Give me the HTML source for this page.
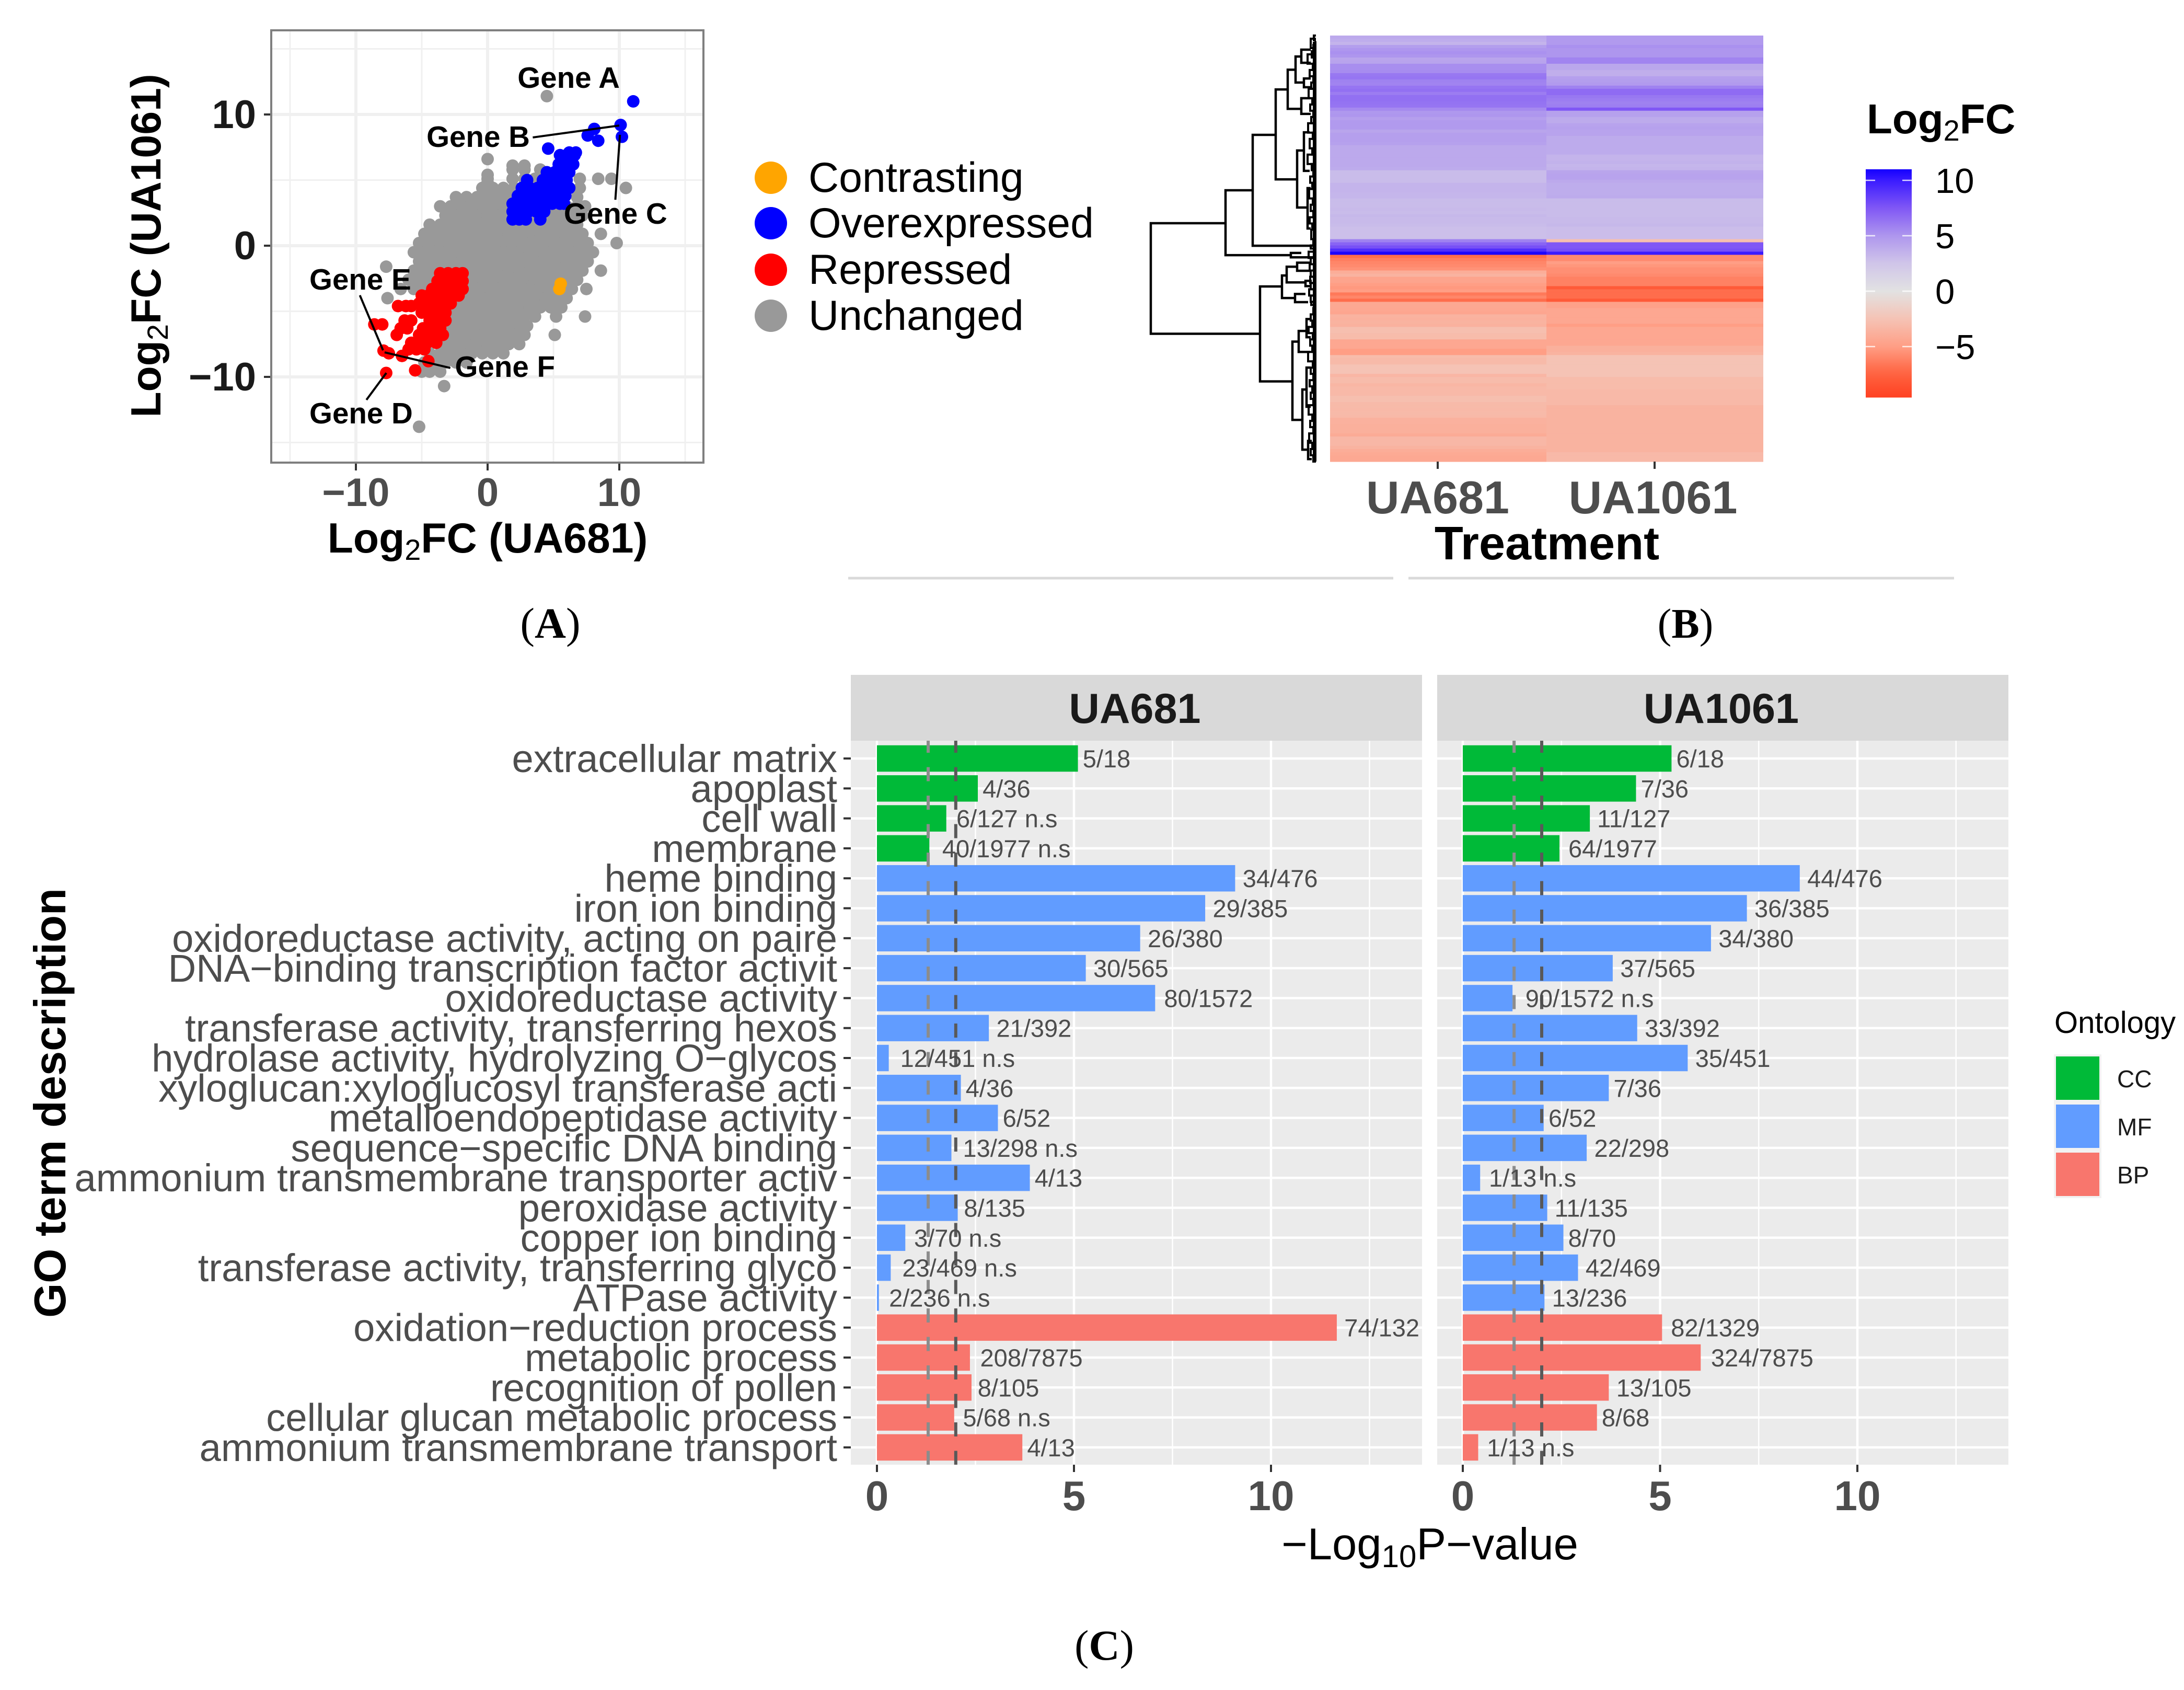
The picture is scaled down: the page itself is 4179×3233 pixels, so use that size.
<!DOCTYPE html>
<html lang="en">
<head>
<meta charset="utf-8">
<title>Differential expression figure</title>
<style>
html,body{margin:0;padding:0;background:#fff;}
svg{display:block;font-family:"Liberation Sans",sans-serif;}
</style>
</head>
<body>
<svg id="figure" xmlns="http://www.w3.org/2000/svg" width="4179" height="3233" viewBox="0 0 4179 3233">
<rect x="0" y="0" width="4179" height="3233" fill="#fff"/>

<g id="panelA"></g>
<text x="933" y="1057" text-anchor="middle" font-size="80.5" font-weight="bold" fill="#000">Log<tspan dy="14" font-size="56" font-weight="normal">2</tspan><tspan dy="-14">FC (UA681)</tspan></text>
<text transform="translate(307,470) rotate(-90)" text-anchor="middle" font-size="80.5" font-weight="bold" fill="#000">Log<tspan dy="14" font-size="56" font-weight="normal">2</tspan><tspan dy="-14">FC  (UA1061)</tspan></text>

<g>
<circle cx="1475" cy="340" r="31" fill="#ffa500"/>
<circle cx="1475" cy="427" r="31" fill="#0000ff"/>
<circle cx="1475" cy="516" r="31" fill="#ff0000"/>
<circle cx="1475" cy="604" r="31" fill="#999999"/>
<text x="1547" y="367" font-size="80.5" fill="#000">Contrasting</text>
<text x="1547" y="454" font-size="80.5" fill="#000">Overexpressed</text>
<text x="1547" y="543" font-size="80.5" fill="#000">Repressed</text>
<text x="1547" y="631" font-size="80.5" fill="#000">Unchanged</text>
</g>

<g id="dendrogram"></g>
<g id="heatmap"></g>
<text x="2960" y="1070" text-anchor="middle" font-size="90" font-weight="bold" fill="#000">Treatment</text>

<text x="3572" y="255" font-size="80" font-weight="bold" fill="#000">Log<tspan dy="14" font-size="56" font-weight="normal">2</tspan><tspan dy="-14">FC</tspan></text>
<defs><linearGradient id="colorbarGradient" x1="0" y1="0" x2="0" y2="1"></linearGradient></defs>
<g id="colorbar"></g>

<line x1="1623" y1="1106" x2="2666" y2="1106" stroke="#d9d9d9" stroke-width="5"/>
<line x1="2695" y1="1106" x2="3739" y2="1106" stroke="#d9d9d9" stroke-width="5"/>

<text x="1053" y="1220" text-anchor="middle" font-family="'Liberation Serif',serif" font-size="83" fill="#000">(<tspan font-weight="bold">A</tspan>)</text>
<text x="3225" y="1220" text-anchor="middle" font-family="'Liberation Serif',serif" font-size="80" fill="#000">(<tspan font-weight="bold">B</tspan>)</text>
<text x="2113" y="3175" text-anchor="middle" font-family="'Liberation Serif',serif" font-size="82" fill="#000">(<tspan font-weight="bold">C</tspan>)</text>

<g id="panelC"></g>
<text transform="translate(125,2110) rotate(-90)" text-anchor="middle" font-size="85" font-weight="bold" fill="#000">GO term description</text>
<text x="2736" y="2983" text-anchor="middle" font-size="85" fill="#000">−Log<tspan dy="15" font-size="60">10</tspan><tspan dy="-15">P−value</tspan></text>

<g>
<text x="3931" y="1976" font-size="58" fill="#000">Ontology</text>
<rect x="3930" y="2017" width="91" height="275" fill="#f2f2f2"/>
<rect x="3934" y="2021" width="83" height="83" fill="#00ba38"/>
<rect x="3934" y="2113" width="83" height="83" fill="#619cff"/>
<rect x="3934" y="2205" width="83" height="83" fill="#f8766d"/>
<text x="4051" y="2080" font-size="46" fill="#1a1a1a">CC</text>
<text x="4051" y="2172" font-size="46" fill="#1a1a1a">MF</text>
<text x="4051" y="2264" font-size="46" fill="#1a1a1a">BP</text>
</g>
</svg>

<script>
/* ===== Panel A data: Log2FC in UA681 (x) and UA1061 (y) ===== */
const scatterMajorTicks = [-10, 0, 10];
const scatterMinorTicks = [-15, -5, 5, 15];
const scatterTickLabels = ['−10', '0', '10'];
/* each row: [y, [x, x, ...]] */
const unchangedRows = [
[11.4,[4.5]],[6.6,[0]],[6.1,[1.9,2.8]],[5.8,[1.9,2.8,4.0]],[5.4,[0]],[5.1,[0,1.9,2.8,3.6,7.0,8.4,9.4]],[4.8,[0]],
[4.4,[-0.4,0.4,1.2,2,2.8,7.0,10.5]],
[3.7,[-2.4,-1.6,-0.8,0,0.8,1.6,2.4,3.2,6.8]],
[3.0,[-3.6,-2.8,-2,-1.2,-0.4,0.4,1.2,2,2.8,3.6,4.4,5.2,6,6.8,7.4]],
[2.3,[-3.2,-2.4,-1.6,-0.8,0,0.8,1.6,2.4,3.2,4,4.8,5.6,6.4,7.2]],
[1.6,[-4.4,-3.6,-2.8,-2,-1.2,-0.4,0.4,1.2,2,2.8,3.6,4.4,5.2,6,6.8]],
[0.9,[-4.8,-4,-3.2,-2.4,-1.6,-0.8,0,0.8,1.6,2.4,3.2,4,4.8,5.6,6.4,7.2,8.6]],
[0.2,[-5.2,-4.4,-3.6,-2.8,-2,-1.2,-0.4,0.4,1.2,2,2.8,3.6,4.4,5.2,6,6.8,7.6,9.8]],
[-0.5,[-5.6,-4.8,-4,-3.2,-2.4,-1.6,-0.8,0,0.8,1.6,2.4,3.2,4,4.8,5.6,6.4,7.2,8]],
[-1.2,[-5.2,-4.4,-3.6,-2.8,-2,-1.2,-0.4,0.4,1.2,2,2.8,3.6,4.4,5.2,6,6.8,7.6]],
[-1.6,[-7.7]],
[-1.9,[-5.6,-4.8,-4,-3.2,-2.4,-1.6,-0.8,0,0.8,1.6,2.4,3.2,4,4.8,5.6,6.4,7.2,8.6]],
[-2.6,[-6,-5.2,-4.4,-3.6,-2.8,-2,-1.2,-0.4,0.4,1.2,2,2.8,3.6,4.4,5.2,6,6.8]],
[-3.3,[-6.6,-5.6,-4.8,-4,-3.2,-2.4,-1.6,-0.8,0,0.8,1.6,2.4,3.2,4,4.8,5.6,6.4,7.5]],
[-4.0,[-7.6,-4.4,-3.6,-2.8,-2,-1.2,-0.4,0.4,1.2,2,2.8,3.6,4.4,5.2,6]],
[-4.7,[-4,-3.2,-2.4,-1.6,-0.8,0,0.8,1.6,2.4,3.2,4,4.8,5.6]],
[-5.4,[-3.6,-2.8,-2,-1.2,-0.4,0.4,1.2,2,2.8,3.6,5.2,7.4]],
[-6.1,[-3.2,-2.4,-1.6,-0.8,0,0.8,1.6,2.4,3.0]],
[-6.8,[-3.6,-2.8,-2,-1.2,-0.4,0.4,1.2,2,2.8,5.1]],
[-7.5,[-3.2,-2.4,-1.6,-0.8,0,0.8,1.6,2.4]],
[-8.2,[-4.4,-3.6,-2.8,-2,-1.2,-0.4,0.4,1.2]],
[-8.9,[-4.8,-4,-3.2,-2.4,-1.6]],
[-9.6,[-5,-4.4,-3.6]],[-10.7,[-3.3]],[-13.8,[-5.2]]
];
const overexpressedRows = [
[11.0,[11.06]],[9.2,[10.1]],[8.9,[8.1]],[8.4,[7.6]],[8.3,[10.2]],[8.0,[8.4]],[7.4,[4.6]],
[7.1,[6.2,6.7]],[6.9,[5.5,6.0,6.6]],[6.2,[5.4,5.9,6.5]],[5.6,[4.5,5.1,5.7,6.2]],
[5.0,[3.0,4.2,4.8,5.4,6.0]],[4.4,[2.6,3.2,3.8,4.4,5.0,5.6,6.2]],
[3.8,[2.3,2.9,3.5,4.1,4.7,5.3,5.9]],[3.2,[1.9,2.5,3.1,3.7,4.3,4.9,5.5,5.8]],
[2.6,[1.9,2.5,3.1,3.7,4.3]],[2.0,[1.9,2.4,2.9,4.0]]
];
const repressedRows = [
[-2.1,[-3.6,-3,-2.4,-1.9]],[-2.7,[-3.8,-3.2,-2.6,-1.9]],[-3.3,[-4.2,-3.6,-3,-2.4,-1.9]],
[-3.8,[-5,-4.5,-4,-3.4,-2.8,-2.2]],[-4.4,[-5.2,-4.6,-4,-3.4,-2.8]],[-4.6,[-6.8,-6.2,-5.8]],
[-5.1,[-5,-4.4,-3.8,-3.2]],[-5.7,[-6.3,-5.8,-4.4,-3.8,-3.2]],[-6.0,[-8.6,-8]],
[-6.3,[-6.6,-6.1,-4.9,-4.2,-3.6]],[-6.8,[-6.9,-5.2,-4.6,-4,-3.4]],
[-7.4,[-5.8,-5.2,-4.6,-3.9]],[-7.9,[-6,-5.4,-4.8]],[-8.0,[-7.9]],[-8.2,[-7.5]],
[-8.4,[-6.5]],[-8.8,[-4.5]],[-9.5,[-5.5]],[-9.7,[-7.7]]
];
const contrastingRows = [[-2.9,[5.55]],[-3.3,[5.45]]];
/* gene callouts: label leader lines in data units [x0, y0, x1, y1] */
const geneLeaders = [
[3.43,8.25,10.0,9.16],[9.7,3.5,10.05,8.45],[-9.7,-3.78,-7.94,-7.97],
[-7.82,-8.13,-2.83,-9.32],[-9.2,-11.75,-7.69,-9.7]
];
const geneNames = ['Gene A','Gene B','Gene C','Gene D','Gene E','Gene F'];
/* label anchors in data units */
const geneLabelX = [2.27,-4.64,5.79,-13.53,-13.53,-2.48];
const geneLabelY = [12.03,7.53,1.67,-13.54,-3.35,-10.0];

/* ===== Panel B data: one value per gene row ===== */
const heatUA681 = [
4.0,3.8,3.4,4.6,5,5.2,5,4.2,4.3,5.3,5.3,5.4,6.2,6.3,5.8,5.7,6.3,6.5,6.0,6.5,6.5,6.4,6.3,5.5,4.9,5.0,4.5,4.8,4.8,4.8,
4.2,4.5,4.5,4.5,4.4,4.0,4,4,4,4,4,4,3.9,3,3,3,3,3.4,3.4,3.4,3.3,3.3,3.0,3.0,3.0,3.1,3.0,3.2,3.1,3.1,
3.0,2.8,2.8,2.8,2.8,5.8,7.0,7.8,9.2,10.8,
-7,-6.3,-6,-5.8,-5.5,-4,-3.6,-4.6,-4.6,-5,-5.2,-5,-6.5,-6,-7,-4.3,-4.3,-4.4,-4.5,-3.6,-3.7,-3.6,-3.7,-2.8,-2.8,-3,-3,-4.4,-4.4,-4.4,
-5,-5,-3,-3.1,-3.1,-2.5,-2.5,-2.5,-3.4,-3,-3,-3.4,-3.2,-3.2,-3.2,-2.8,-2.8,-3.1,-3.1,-3.2,-3.1,-3.2,-3.7,-3.7,-3.8,-3.8,-3.8,-4.1,-3.3,-3.3,
-3.3,-3.6,-4,-4.2,-4.3,-4.3
];
const heatUA1061 = [
4.8,4.8,4.8,5.2,5,5,5,5.7,5.7,4.1,4.1,3.7,3.7,4.5,4.6,4.8,5.8,6.7,6.7,6.2,6,5.8,5.9,7.5,4.4,4.4,3.9,3.9,4.3,4.4,
4.3,4.3,3.9,3.9,3.9,3.9,3.9,3.9,3.4,3.4,3.5,3.3,3.4,4.2,4.3,4.3,4.0,3.8,3.8,3.8,3.8,3.9,3.0,3.0,3.0,3.0,3.0,3.0,3.1,3.1,
3.2,2.9,2.9,2.9,2.9,-2.8,7.5,7.5,7.8,10,
-5.8,-5.8,-5,-5.3,-5.6,-5.6,-5.8,-6.2,-6.2,-6.2,-8,-7,-7,-7,-8,-4.8,-4.8,-4.4,-4.4,-4.4,-4.4,-4.4,-5,-4.4,-4.4,-4.4,-4.4,-4.4,-4.4,-3.8,
-3.8,-3.6,-2.5,-2.5,-2.5,-2.5,-2.5,-2.5,-2.5,-3,-3,-3,-3,-3.2,-3.2,-3.2,-3.2,-3.2,-3.6,-3.6,-3.6,-3.6,-3.6,-3.6,-3.6,-3.6,-3.6,-3.6,-3.6,-3.6,
-3.6,-3.6,-3.6,-3.2,-3.2,-3.2
];
const heatColumns = ['UA681','UA1061'];
const colorStopValues = [11,10,7.5,5,2.5,0,-2.5,-5,-7,-8,-9.6];
const colorStopHex = ['#1400ff','#3a1bff','#8057f5','#ae96ee','#d0c5e9','#e2e2e2','#f5c3b5','#ff9e85','#ff6d4c','#ff5a38','#ff4122'];
const colorbarTicks = [10,5,0,-5];
const colorbarTickLabels = ['10','5','0','−5'];

/* dendrogram merges: [height, topRow, bottomRow, topChildHeight, bottomChildHeight] */
const dendroMerges = [
[31.6,59.9,95.2,17.3,10.7],[17.3,49.4,70.1,12.1,4.8],[12.1,31.7,67.1,7.7,0],[7.7,17.2,45.9,5.4,3.6],
[5.4,10.9,23.4,3.9,2.8],[3.9,6.7,15,2.8,2.3],[2.8,4.5,8.7,1,1],[2.3,13.7,16.5,1,0.8],[2.8,20,25,1,1],
[3.6,36.7,54.9,2.3,1.6],[2.3,30.9,43.2,1.2,1.2],[1.6,48.7,61.6,1,1],[4.8,69.4,70.8,2.8,0],
[10.7,80.1,110.4,6.5,4.5],[6.5,76.6,83.8,5.6,4],[5.6,73.8,78.8,3.6,2],[3.6,72.5,75.1,1,1],[2,78.3,80,0.8,0.8],
[4,82.5,85.1,2,1.5],[4.5,97.7,122.7,3.3,2.6],[3.3,94.3,101,1.8,1.1],[1.8,90.5,96.3,1,1],
[2.6,113,132.2,1.8,1.5],[1.8,106,118.5,1,1],[1.5,129.4,135.2,0.8,0.8]
];
/* small merges close to the leaves: [height, topRow, bottomRow] */
const dendroLeafMerges = [
[0.4,0,1.5],[1,1,4],[0.5,3,5],[0.8,5,7],[1.6,6,9],[0.6,9,11],[1.2,11,13],[0.5,13,15],[0.9,15,17],[1.4,17,20],
[0.7,20,22],[1.1,22,24],[0.5,24,26],[0.9,26,28],[1.5,28,31],[0.6,31,33],[1.2,33,36],[0.7,36,38],[1.6,38,41],[0.8,41,43],
[0.5,43,45],[1.1,45,47],[0.7,47,49],[1.3,49,52],[0.6,52,54],[1,54,56],[0.5,56,58],[1.2,58,60],[0.7,60,62],[0.9,62,65],
[0.5,65,67],[1,67,68],[1.4,69,71],[1,71,73],[1.2,73,75],[1,75,77],[1.1,77,79],[1,79,81],[1.3,81,83],[1,83,85],
[0.9,85,86],[0.5,87,89],[1,89,91],[0.7,91,93],[1.4,93,95],[0.6,95,97],[1.1,97,99],[0.7,99,101],[1.5,101,104],[0.6,104,106],
[1,106,108],[0.5,108,110],[1.2,110,112],[0.7,112,114],[1,114,116],[0.5,116,118],[1.4,118,121],[0.7,121,123],[1.1,123,125],[0.5,125,127],
[1.3,127,130],[0.7,130,132],[1,132,134],[0.5,134,136]
];

/* ===== Panel C data ===== */
const goTerms = [
'extracellular matrix','apoplast','cell wall','membrane','heme binding','iron ion binding',
'oxidoreductase activity, acting on paire','DNA−binding transcription factor activit','oxidoreductase activity',
'transferase activity, transferring hexos','hydrolase activity, hydrolyzing O−glycos','xyloglucan:xyloglucosyl transferase acti',
'metalloendopeptidase activity','sequence−specific DNA binding','ammonium transmembrane transporter activ',
'peroxidase activity','copper ion binding','transferase activity, transferring glyco','ATPase activity',
'oxidation−reduction process','metabolic process','recognition of pollen','cellular glucan metabolic process','ammonium transmembrane transport'
];
const goOntology = ['CC','CC','CC','CC','MF','MF','MF','MF','MF','MF','MF','MF','MF','MF','MF','MF','MF','MF','MF','BP','BP','BP','BP','BP'];
const ua681Values = [5.10,2.56,1.76,1.33,9.09,8.33,6.68,5.30,7.06,2.84,0.30,2.13,3.07,1.89,3.88,2.05,0.72,0.35,0.05,11.67,2.36,2.40,1.96,3.69];
const ua1061Values = [5.29,4.39,3.22,2.45,8.54,7.20,6.29,3.80,1.26,4.42,5.70,3.70,2.05,3.14,0.44,2.14,2.55,2.92,2.07,5.05,6.03,3.70,3.40,0.39];
const ua681Labels = ['5/18','4/36','6/127 n.s','40/1977 n.s','34/476','29/385','26/380','30/565','80/1572','21/392','12/451 n.s','4/36','6/52','13/298 n.s','4/13','8/135','3/70 n.s','23/469 n.s','2/236 n.s','74/132','208/7875','8/105','5/68 n.s','4/13'];
const ua1061Labels = ['6/18','7/36','11/127','64/1977','44/476','36/385','34/380','37/565','90/1572 n.s','33/392','35/451','7/36','6/52','22/298','1/13 n.s','11/135','8/70','42/469','13/236','82/1329','324/7875','13/105','8/68','1/13 n.s'];
const goMajorTicks = [0,5,10];
const goMinorTicks = [2.5,7.5,12.5];
const significanceLines = [1.3,2];

/* ===== helpers ===== */
const NS = 'http://www.w3.org/2000/svg';
function mk(parent, tag, props, text) {
  const el = document.createElementNS(NS, tag);
  for (const k in props) el.setAttribute(k, props[k]);
  if (text !== undefined) el.textContent = text;
  parent.appendChild(el);
  return el;
}

/* ===== Panel A ===== */
(function () {
  const g = document.getElementById('panelA');
  const L = 519, R = 1346, T = 58, B = 885;
  const sx = v => 933 + v * 25.2;
  const sy = v => 470 - v * 25.1;
  const bg = mk(g, 'rect', {x: L, y: T, width: R - L, height: B - T, fill: '#fff'});
  
  
  scatterMinorTicks.forEach(v => {
    const a = mk(g, 'line', {x1: sx(v), x2: sx(v), y1: T, y2: B, stroke: '#f0f0f0', 'stroke-width': 3});
    
    
    const b = mk(g, 'line', {x1: L, x2: R, y1: sy(v), y2: sy(v), stroke: '#f0f0f0', 'stroke-width': 3});
    
    
  });
  scatterMajorTicks.forEach((v, i) => {
    const a = mk(g, 'line', {x1: sx(v), x2: sx(v), y1: T, y2: B, stroke: '#f0f0f0', 'stroke-width': 6});
    
    
    const b = mk(g, 'line', {x1: L, x2: R, y1: sy(v), y2: sy(v), stroke: '#f0f0f0', 'stroke-width': 6});
    
    
    const tx = mk(g, 'line', {x1: sx(v), x2: sx(v), y1: B, y2: B + 15, stroke: '#333', 'stroke-width': 4});
    
    
    const ty = mk(g, 'line', {x1: L - 14, x2: L, y1: sy(v), y2: sy(v), stroke: '#333', 'stroke-width': 4});
    
    
    const lx = mk(g, 'text', {x: sx(v), y: 968, 'text-anchor': 'middle', 'font-size': 76, 'font-weight': 'bold', fill: '#4d4d4d'}, scatterTickLabels[i]);
    
    
    const ly = mk(g, 'text', {x: 490, y: sy(v) + 26, 'text-anchor': 'end', 'font-size': 76, 'font-weight': 'bold', fill: '#1a1a1a'}, scatterTickLabels[i]);
    
    
  });
  const R_PT = 12;
  unchangedRows.forEach(row => row[1].forEach(x => {
    const c = mk(g, 'circle', {cx: sx(x), cy: sy(row[0]), r: R_PT, fill: '#999999'});
    
    
  }));
  repressedRows.forEach(row => row[1].forEach(x => {
    const c = mk(g, 'circle', {cx: sx(x), cy: sy(row[0]), r: R_PT, fill: '#ff0000'});
    
    
  }));
  overexpressedRows.forEach(row => row[1].forEach(x => {
    const c = mk(g, 'circle', {cx: sx(x), cy: sy(row[0]), r: R_PT, fill: '#0000ff'});
    
    
  }));
  contrastingRows.forEach(row => row[1].forEach(x => {
    const c = mk(g, 'circle', {cx: sx(x), cy: sy(row[0]), r: R_PT, fill: '#ffa500'});
    
    
  }));
  geneLeaders.forEach(s => {
    const l = mk(g, 'line', {x1: sx(s[0]), y1: sy(s[1]), x2: sx(s[2]), y2: sy(s[3]), stroke: '#000', 'stroke-width': 4});
    
    
  });
  geneNames.forEach((n, i) => {
    const t = mk(g, 'text', {x: sx(geneLabelX[i]), y: sy(geneLabelY[i]), 'font-size': 56.5, 'font-weight': 'bold', fill: '#000'}, n);
    
    
  });
  const border = mk(g, 'rect', {x: L, y: T, width: R - L, height: B - T, fill: 'none', stroke: '#7f7f7f', 'stroke-width': 4});
  
  
})();

/* ===== Panel B ===== */
function hexToRgb(h) { return [1, 3, 5].map(i => parseInt(h.substr(i, 2), 16)); }
function heatColor(v) {
  if (v >= colorStopValues[0]) return colorStopHex[0];
  for (let i = 1; i < colorStopValues.length; i++) {
    if (v >= colorStopValues[i]) {
      const t = (v - colorStopValues[i]) / (colorStopValues[i - 1] - colorStopValues[i]);
      const a = hexToRgb(colorStopHex[i]), b = hexToRgb(colorStopHex[i - 1]);
      return 'rgb(' + a.map((c, k) => Math.round(c + (b[k] - c) * t)).join(',') + ')';
    }
  }
  return colorStopHex[colorStopHex.length - 1];
}
(function () {
  const g = document.getElementById('heatmap');
  const top = 68, bottom = 883, left = 2545, mid = 2959, right = 3374;
  const n = heatUA681.length;
  const rowH = (bottom - top) / n;
  heatUA681.forEach((v, i) => {
    const r = mk(g, 'rect', {x: left, y: top + i * rowH, width: mid - left, height: rowH + 0.6, fill: heatColor(v)});
    
    
  });
  heatUA1061.forEach((v, i) => {
    const r = mk(g, 'rect', {x: mid, y: top + i * rowH, width: right - mid, height: rowH + 0.6, fill: heatColor(v)});
    
    
  });
  const tickX = [2751, 3166];
  heatColumns.forEach((c, i) => {
    const t = mk(g, 'line', {x1: tickX[i], x2: tickX[i], y1: bottom, y2: bottom + 14, stroke: '#333', 'stroke-width': 4});
    
    
    const l = mk(g, 'text', {x: tickX[i] - (i ? 3 : 0), y: 982, 'text-anchor': 'middle', 'font-size': 88, 'font-weight': 'bold', fill: '#4d4d4d'}, c);
    
    
  });

  /* dendrogram */
  const d = document.getElementById('dendrogram');
  const dx = h => 2518 - h * 10;
  const dy = r => top + r * rowH;
  const spine = mk(d, 'line', {x1: dx(0.25), x2: dx(0.25), y1: dy(2), y2: dy(136), stroke: '#000', 'stroke-width': 7});
  
  
  const tip = mk(d, 'line', {x1: dx(0.1), x2: dx(0.1), y1: dy(1.8), y2: dy(136), stroke: '#000', 'stroke-width': 4});
  
  
  dendroLeafMerges.forEach(m => {
    const p = mk(d, 'path', {d: 'M' + dx(0) + ' ' + dy(m[1]) + 'H' + dx(m[0]) + 'V' + dy(m[2]) + 'H' + dx(0), fill: 'none', stroke: '#000', 'stroke-width': 4});
    
    
  });
  dendroMerges.forEach(m => {
    const p = mk(d, 'path', {d: 'M' + dx(m[3]) + ' ' + dy(m[1]) + 'H' + dx(m[0]) + 'V' + dy(m[2]) + 'H' + dx(m[4]), fill: 'none', stroke: '#000', 'stroke-width': 4.5});
    
    
  });

  /* colorbar */
  const bar = document.getElementById('colorbar');
  const grad = document.getElementById('colorbarGradient');
  const vTop = colorStopValues[0], vBot = colorStopValues[colorStopValues.length - 1];
  colorStopValues.forEach((v, i) => {
    mk(grad, 'stop', {offset: (vTop - v) / (vTop - vBot), 'stop-color': colorStopHex[i]});
  });
  const by = v => 557 - v * 21.2;
  const cb = mk(bar, 'rect', {x: 3570, y: by(vTop), width: 88, height: by(vBot) - by(vTop), fill: 'url(#colorbarGradient)'});
  
  
  colorbarTicks.forEach((v, i) => {
    const a = mk(bar, 'line', {x1: 3570, x2: 3588, y1: by(v), y2: by(v), stroke: '#fff', 'stroke-width': 2.5, opacity: 0.8});
    
    
    const b = mk(bar, 'line', {x1: 3640, x2: 3658, y1: by(v), y2: by(v), stroke: '#fff', 'stroke-width': 2.5, opacity: 0.8});
    
    
    const t = mk(bar, 'text', {x: 3703, y: by(v) + 24, 'font-size': 67, fill: '#000'}, colorbarTickLabels[i]);
    
    
  });
})();

/* ===== Panel C ===== */
(function () {
  const g = document.getElementById('panelC');
  const stripTop = 1291, stripBottom = 1417, panelBottom = 2802;
  const yBand = i => 1451 + i * 57.3;
  const barH = 50.5;
  const colors = {CC: '#00ba38', MF: '#619cff', BP: '#f8766d'};
  const facets = [
    {name: 'UA681', left: 1628, right: 2721, x0: 1678, unit: 75.4, values: ua681Values, labels: ua681Labels},
    {name: 'UA1061', left: 2750, right: 3843, x0: 2799, unit: 75.5, values: ua1061Values, labels: ua1061Labels}
  ];
  facets.forEach(f => {
    const sx = v => f.x0 + v * f.unit;
    const strip = mk(g, 'rect', {x: f.left, y: stripTop, width: f.right - f.left, height: stripBottom - stripTop, fill: '#d9d9d9'});
    
    
    const st = mk(g, 'text', {x: (f.left + f.right) / 2 - 3, y: 1383, 'text-anchor': 'middle', 'font-size': 81, 'font-weight': 'bold', fill: '#1a1a1a'}, f.name);
    
    
    const bg = mk(g, 'rect', {x: f.left, y: stripBottom, width: f.right - f.left, height: panelBottom - stripBottom, fill: '#ebebeb'});
    
    
    goMinorTicks.forEach(v => {
      const l = mk(g, 'line', {x1: sx(v), x2: sx(v), y1: stripBottom, y2: panelBottom, stroke: '#fff', 'stroke-width': 2.5});
      
      
    });
    goMajorTicks.forEach(v => {
      const l = mk(g, 'line', {x1: sx(v), x2: sx(v), y1: stripBottom, y2: panelBottom, stroke: '#fff', 'stroke-width': 4.5});
      
      
      const t = mk(g, 'line', {x1: sx(v), x2: sx(v), y1: panelBottom, y2: panelBottom + 14, stroke: '#333', 'stroke-width': 4});
      
      
      const lab = mk(g, 'text', {x: sx(v), y: 2889, 'text-anchor': 'middle', 'font-size': 80, 'font-weight': 'bold', fill: '#4d4d4d'}, String(v));
      
      
    });
    goTerms.forEach((term, i) => {
      const l = mk(g, 'line', {x1: f.left, x2: f.right, y1: yBand(i), y2: yBand(i), stroke: '#fff', 'stroke-width': 4.5});
      
      
    });
    f.values.forEach((v, i) => {
      const b = mk(g, 'rect', {x: sx(0), y: yBand(i) - barH / 2, width: v * f.unit, height: barH, fill: colors[goOntology[i]]});
      
      
    });
    significanceLines.forEach((v, i) => {
      const l = mk(g, 'line', {x1: sx(v), x2: sx(v), y1: stripBottom, y2: panelBottom, stroke: i ? '#595959' : '#8c8c8c', 'stroke-width': 6, 'stroke-dasharray': '27 27.5', 'stroke-dashoffset': 4});
      
      
    });
    f.labels.forEach((s, i) => {
      const t = mk(g, 'text', {x: sx(f.values[i]), y: yBand(i) + 17, 'font-size': 47, fill: '#4d4d4d'}, s);
      
      
      t.setAttribute('x', sx(f.values[i]) + 0.1 * t.getComputedTextLength());
    });
  });
  goTerms.forEach((term, i) => {
    const t = mk(g, 'line', {x1: 1614, x2: 1628, y1: yBand(i), y2: yBand(i), stroke: '#333', 'stroke-width': 4});
    
    
    const l = mk(g, 'text', {x: 1602, y: yBand(i) + 26, 'text-anchor': 'end', 'font-size': 74.2, fill: '#4d4d4d'}, term);
    
    
  });
})();
</script>
</body>
</html>
